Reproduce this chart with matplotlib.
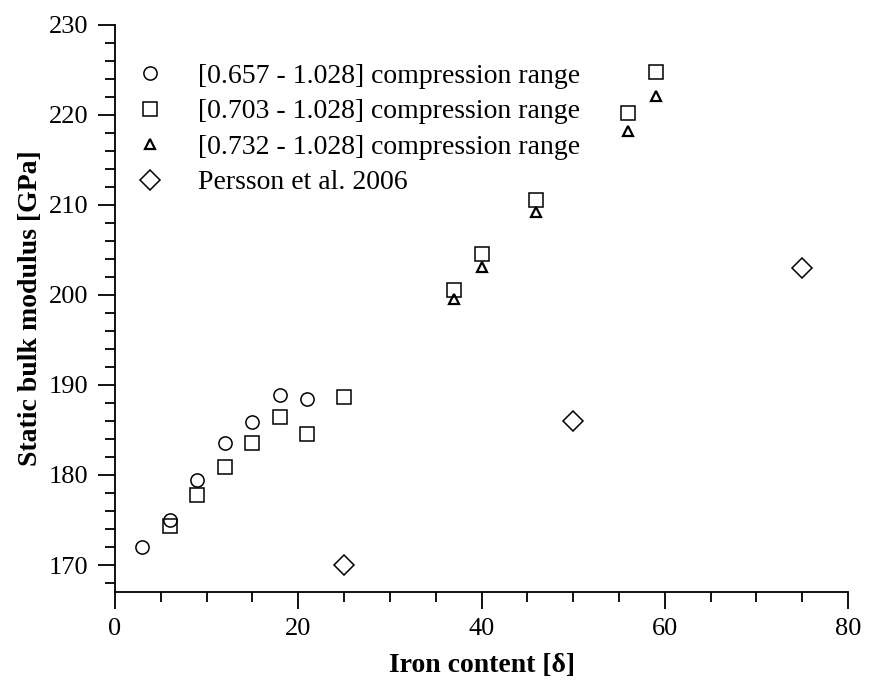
import matplotlib.pyplot as plt
from matplotlib.ticker import MultipleLocator

# Iron content [delta] and static bulk modulus [GPa]
x_657 = [3, 6, 9, 12, 15, 18, 21]
y_657 = [172.0, 175.0, 179.4, 183.6, 185.9, 188.9, 188.4]

x_703 = [6, 9, 12, 15, 18, 21, 25, 37, 40, 46, 56, 59]
y_703 = [174.3, 177.8, 180.9, 183.6, 186.4, 184.6, 188.7, 200.5, 204.6, 210.6, 220.2, 224.8]

x_732 = [37, 40, 46, 56, 59]
y_732 = [199.6, 203.1, 209.2, 218.2, 222.1]

x_persson = [25, 50, 75]
y_persson = [170.0, 186.0, 203.0]

labels = ["[0.657 - 1.028] compression range",
          "[0.703 - 1.028] compression range",
          "[0.732 - 1.028] compression range",
          "Persson et al. 2006"]

plt.rcParams['font.family'] = ['Liberation Serif', 'DejaVu Serif']
plt.rcParams['font.size'] = 19

fig = plt.figure(figsize=(8.73, 6.84), dpi=100)
ax = fig.add_axes([0.1317, 0.1345, 0.8397, 0.829])

ax.plot(x_657, y_657, 'o', ms=9.5, mfc='none', mec='black', mew=1.1, label=labels[0])
ax.plot(x_703, y_703, 's', ms=10, mfc='none', mec='black', mew=1.1, label=labels[1])
ax.plot(x_732, y_732, '^', ms=6.5, mfc='none', mec='black', mew=1.6, label=labels[2])
ax.plot(x_persson, y_persson, 'D', ms=10, mfc='none', mec='black', mew=1.1, label=labels[3])

ax.set_xlim(0, 80)
ax.set_ylim(167, 230)
ax.xaxis.set_major_locator(MultipleLocator(20))
ax.xaxis.set_minor_locator(MultipleLocator(5))
ax.yaxis.set_major_locator(MultipleLocator(10))
ax.yaxis.set_minor_locator(MultipleLocator(2))

ax.spines['top'].set_visible(False)
ax.spines['right'].set_visible(False)
ax.spines['left'].set_linewidth(1.3)
ax.spines['bottom'].set_linewidth(1.3)
ax.tick_params(which='major', direction='out', length=12, width=1.3, labelsize=19, pad=7)
ax.tick_params(which='minor', direction='out', length=7, width=1.3)

ax.set_xlabel("Iron content [δ]", fontweight='bold', fontsize=20, labelpad=9)
ax.set_ylabel("Static bulk modulus [GPa]", fontweight='bold', fontsize=20, labelpad=4)

ax.legend(loc='upper left', bbox_to_anchor=(-0.015, 0.976), frameon=False,
          handlelength=1.5, handletextpad=0.98, labelspacing=0.36, fontsize=20)

fig.savefig("out.png", dpi=100)
